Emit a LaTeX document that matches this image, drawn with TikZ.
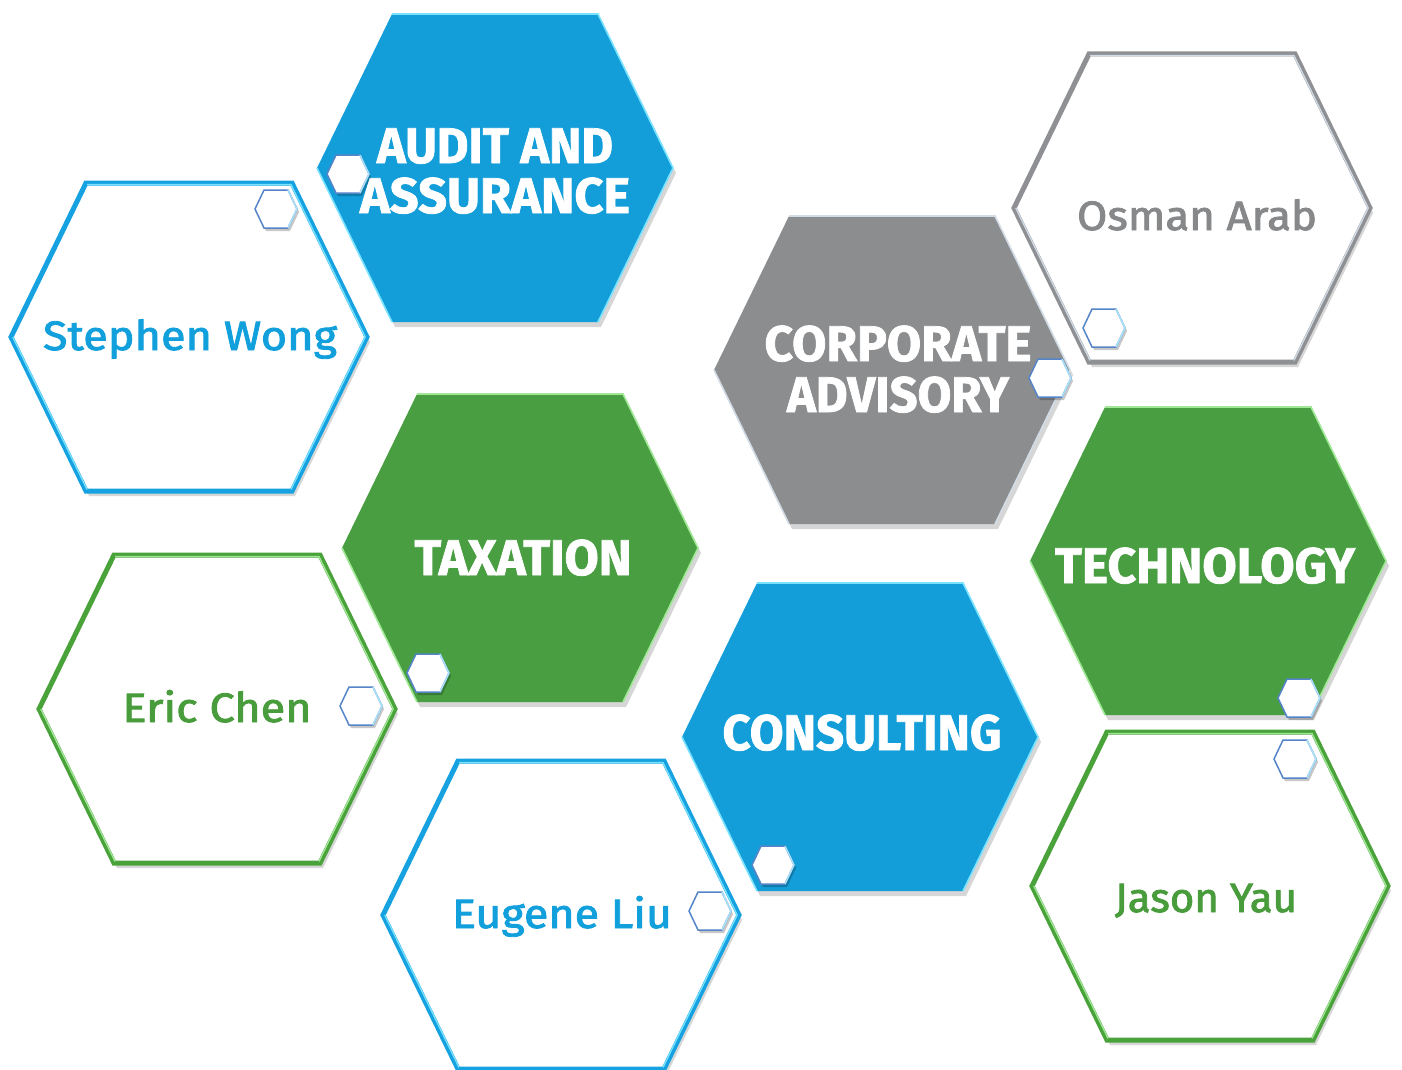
\documentclass[tikz,border=0pt]{standalone}
\usepackage{fontspec}
\setmainfont{Fira Sans}
\newfontfamily\namefont{Fira Sans}[FakeBold=2]
\newfontfamily\titlefont{Fira Sans Bold}[FakeBold=1.5]
\usepackage{graphicx}
\definecolor{cBlue}{RGB}{20,158,217}
\definecolor{cBlueLine}{RGB}{22,162,224}
\definecolor{cBlueLight}{RGB}{120,226,255}
\definecolor{cGreen}{RGB}{74,158,66}
\definecolor{cGreenLine}{RGB}{74,162,58}
\definecolor{cGreenLight}{RGB}{160,232,150}
\definecolor{cGray}{RGB}{140,141,143}
\definecolor{cGrayLine}{RGB}{142,144,147}
\definecolor{cGrayLight}{RGB}{210,220,230}
\definecolor{cSmall}{RGB}{85,132,200}
\definecolor{cSmallLight}{RGB}{170,225,248}
\definecolor{cNameBlue}{RGB}{18,160,220}
\definecolor{cNameGreen}{RGB}{72,156,60}
\definecolor{cNameGray}{RGB}{135,136,138}
\tikzset{
  hexshape/.pic={\path[pic actions] (-178,0) -- (-103,-154) -- (103,-154) -- (178,0) -- (103,154) -- (-103,154) -- cycle;},
  hexlight/.pic={\path[pic actions] (-103,-154) -- (103,-154) -- (178,0) -- (103,154); \path[pic actions] (-178,0) -- (-103,154);},
  minihex/.pic={\path[pic actions] (-21,0) -- (-12,-19) -- (12,-19) -- (21,0) -- (12,19) -- (-12,19) -- cycle;},
  minilight/.pic={\path[pic actions] (12,-19) -- (21,0) -- (12,19);},
  hexshadow/.style={shift={(3,5)}, fill=black, opacity=0.16},
  minishadow/.style={shift={(2,3)}, fill=black, opacity=0.22},
  title/.style={text=white, font=\titlefont\fontsize{50}{56}\selectfont, anchor=base, inner sep=0pt},
  person/.style={font=\namefont\fontsize{41}{48}\selectfont, anchor=base, inner sep=0pt},
  outline/.style={fill=white, line width=5pt, line join=miter},
  hl/.style={line width=1.3pt, scale=0.99},
  hlf/.style={line width=1.6pt},
}
\newcommand{\fitw}[2]{\resizebox{#1pt}{\height}{#2}}
\begin{document}
\begin{tikzpicture}[x=1pt,y=-1pt]
\useasboundingbox (0,0) rectangle (1402,1070);
% centres
\coordinate (audit) at (495,168);
\coordinate (stephen) at (189,337);
\coordinate (tax) at (520,548);
\coordinate (eric) at (217,709);
\coordinate (eugene) at (561,915);
\coordinate (consult) at (860,737);
\coordinate (corp) at (892,370);
\coordinate (osman) at (1192,208);
\coordinate (tech) at (1208,561);
\coordinate (jason) at (1210,886);
\coordinate (m1) at (348,174);
\coordinate (m2) at (276,209);
\coordinate (m3) at (428,673);
\coordinate (m4) at (361,706);
\coordinate (m5) at (773,865);
\coordinate (m6) at (710,911);
\coordinate (m7) at (1050,378);
\coordinate (m8) at (1104,328);
\coordinate (m9) at (1299,698);
\coordinate (m10) at (1295,759);
% shadows
\foreach \c in {audit,stephen,tax,eric,eugene,consult,corp,osman,tech,jason}
  \pic[hexshadow] at (\c) {hexshape};
% filled hexagons
\pic[fill=cBlue] at (audit) {hexshape};
\pic[draw=cBlueLight, hlf] at (audit) {hexlight};
\pic[fill=cGreen] at (tax) {hexshape};
\pic[draw=cGreenLight, hlf] at (tax) {hexlight};
\pic[fill=cBlue] at (consult) {hexshape};
\pic[draw=cBlueLight, hlf] at (consult) {hexlight};
\pic[fill=cGray] at (corp) {hexshape};
\pic[draw=cGrayLight, hlf] at (corp) {hexlight};
\pic[fill=cGreen] at (tech) {hexshape};
\pic[draw=cGreenLight, hlf] at (tech) {hexlight};
% outlined hexagons
\pic[outline, draw=cBlueLine] at (stephen) {hexshape};
\pic[draw=cBlueLight, hl] at (stephen) {hexlight};
\pic[outline, draw=cGreenLine] at (eric) {hexshape};
\pic[draw=cGreenLight, hl] at (eric) {hexlight};
\pic[outline, draw=cBlueLine] at (eugene) {hexshape};
\pic[draw=cBlueLight, hl] at (eugene) {hexlight};
\pic[outline, draw=cGrayLine] at (osman) {hexshape};
\pic[draw=cGrayLight, hl] at (osman) {hexlight};
\pic[outline, draw=cGreenLine] at (jason) {hexshape};
\pic[draw=cGreenLight, hl] at (jason) {hexlight};
% titles
\node[title] (audit1) at (495,163) {\fitw{236}{AUDIT AND}};
\node[title] (audit2) at (495,213) {\fitw{270}{ASSURANCE}};
\node[title] (taxt) at (523,575) {\fitw{217}{TAXATION}};
\node[title] (consultt) at (862,750) {\fitw{279}{CONSULTING}};
\node[title] (corp1) at (898,361) {\fitw{267}{CORPORATE}};
\node[title] (corp2) at (898,412) {\fitw{222}{ADVISORY}};
\node[title] (techt) at (1205,583) {\fitw{300}{TECHNOLOGY}};
% names
\node[person, text=cNameBlue] (stephent) at (190,350) {\fitw{294}{Stephen Wong}};
\node[person, text=cNameGreen] (erict) at (217,722) {\fitw{189}{Eric Chen}};
\node[person, text=cNameBlue] (eugenet) at (562,928) {\fitw{220}{Eugene Liu}};
\node[person, text=cNameGray] (osmant) at (1197,230) {\fitw{240}{Osman Arab}};
\node[person, text=cNameGreen] (jasont) at (1206,912) {\fitw{182}{Jason Yau}};
% small hexagons
\foreach \n in {m1,m2,m3,m4,m5,m6,m7,m8,m9,m10}{
  \pic[minishadow] at (\n) {minihex};
  \pic[fill=white, draw=cSmall, line width=1.5pt] at (\n) {minihex};
  \pic[draw=cSmallLight, line width=1.5pt] at (\n) {minilight};
}
\end{tikzpicture}
\end{document}
